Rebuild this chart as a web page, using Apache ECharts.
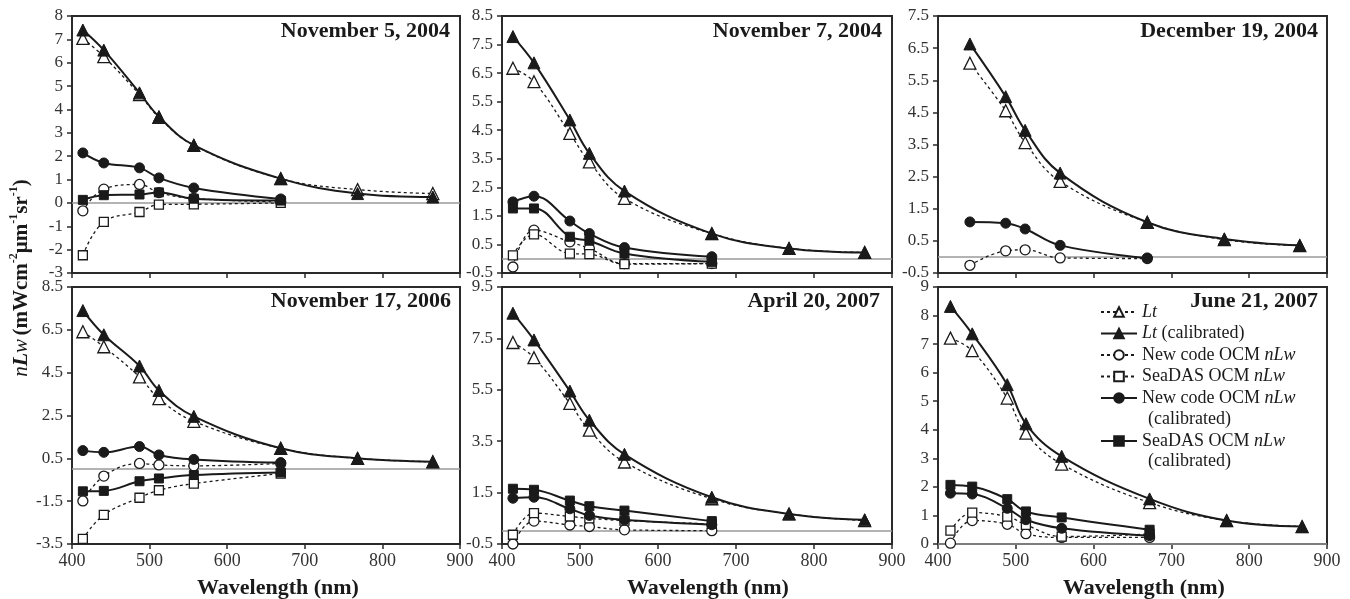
<!DOCTYPE html>
<html><head><meta charset="utf-8">
<script src="https://cdn.jsdelivr.net/npm/echarts@6/dist/echarts.min.js"></script>
<style>html,body{margin:0;padding:0;background:#fff}#c{width:1350px;height:599px}</style>
</head><body><div id="c"></div><script>
// ---- data ----
const wavelengths = [414, 441, 487, 512, 557, 669, 768, 865];
const wavelengthsJun2007 = [416, 444, 489, 513, 559, 672, 771, 868];
const xTicks = [400, 500, 600, 700, 800, 900];

const nov5_2004_Lt         = [7.04, 6.26, 4.64, 3.66, 2.46, 1.04, 0.57, 0.40];
const nov5_2004_LtCal      = [7.40, 6.54, 4.71, 3.69, 2.47, 1.04, 0.40, 0.25];
const nov5_2004_newCode    = [-0.34, 0.59, 0.79, 0.44, 0.19, 0.04];
const nov5_2004_seadas     = [-2.24, -0.81, -0.39, -0.07, -0.06, 0.00];
const nov5_2004_newCodeCal = [2.14, 1.71, 1.50, 1.07, 0.64, 0.17];
const nov5_2004_seadasCal  = [0.13, 0.33, 0.36, 0.45, 0.18, 0.10];

const nov7_2004_Lt         = [6.67, 6.20, 4.39, 3.39, 2.11, 0.88, 0.36, 0.22];
const nov7_2004_LtCal      = [7.78, 6.86, 4.86, 3.69, 2.37, 0.88, 0.36, 0.22];
const nov7_2004_newCode    = [-0.29, 1.00, 0.59, 0.36, -0.17, -0.17];
const nov7_2004_seadas     = [0.12, 0.85, 0.18, 0.16, -0.19, -0.17];
const nov7_2004_newCodeCal = [1.99, 2.19, 1.32, 0.88, 0.39, 0.07];
const nov7_2004_seadasCal  = [1.76, 1.76, 0.77, 0.63, 0.18, -0.11];

const dec19_2004_Lt         = [null, 6.03, 4.55, 3.56, 2.35, 1.08, 0.54, 0.35];
const dec19_2004_LtCal      = [null, 6.63, 4.99, 3.94, 2.61, 1.08, 0.56, 0.36];
const dec19_2004_newCode    = [null, -0.26, 0.19, 0.22, -0.03, -0.05];
const dec19_2004_newCodeCal = [null, 1.09, 1.05, 0.87, 0.36, -0.03];

const nov17_2006_Lt         = [6.41, 5.71, 4.30, 3.29, 2.23, 0.97, 0.50, 0.34];
const nov17_2006_LtCal      = [7.40, 6.27, 4.81, 3.67, 2.46, 0.97, 0.50, 0.34];
const nov17_2006_newCode    = [-1.49, -0.33, 0.26, 0.19, 0.15, 0.26];
const nov17_2006_seadas     = [-3.26, -2.14, -1.34, -0.99, -0.68, -0.21];
const nov17_2006_newCodeCal = [0.86, 0.78, 1.05, 0.66, 0.45, 0.30];
const nov17_2006_seadasCal  = [-1.04, -1.02, -0.57, -0.44, -0.28, -0.16];

const apr20_2007_Lt         = [7.34, 6.75, 4.97, 3.93, 2.69, 1.26, 0.67, 0.41];
const apr20_2007_LtCal      = [8.48, 7.44, 5.45, 4.32, 2.99, 1.32, 0.67, 0.44];
const apr20_2007_newCode    = [-0.50, 0.39, 0.24, 0.18, 0.05, 0.02];
const apr20_2007_seadas     = [-0.14, 0.70, 0.57, 0.50, 0.41, 0.28];
const apr20_2007_newCodeCal = [1.28, 1.32, 0.87, 0.61, 0.44, 0.25];
const apr20_2007_seadasCal  = [1.65, 1.61, 1.19, 0.97, 0.80, 0.39];

const jun21_2007_Lt         = [7.21, 6.77, 5.11, 3.88, 2.80, 1.45, 0.82, 0.61];
const jun21_2007_LtCal      = [8.32, 7.36, 5.58, 4.21, 3.07, 1.58, 0.82, 0.61];
const jun21_2007_newCode    = [0.03, 0.82, 0.69, 0.36, 0.23, 0.23];
const jun21_2007_seadas     = [0.47, 1.10, 0.96, 0.67, 0.26, 0.35];
const jun21_2007_newCodeCal = [1.78, 1.75, 1.25, 0.85, 0.55, 0.29];
const jun21_2007_seadasCal  = [2.07, 2.01, 1.57, 1.14, 0.93, 0.50];

const seriesNames = ['Lt', 'Lt (calibrated)', 'New code OCM nLw', 'SeaDAS OCM nLw',
  'New code OCM nLw (calibrated)', 'SeaDAS OCM nLw (calibrated)'];

// ---- layout ----
const SERIF = '"Liberation Serif", "DejaVu Serif", serif';
const INK = '#1a1a1a';
const panels = [
  {title:'November 5, 2004', wl:wavelengths, ymin:-3, ymax:8, step:1,
   data:[nov5_2004_Lt, nov5_2004_LtCal, nov5_2004_newCode, nov5_2004_seadas, nov5_2004_newCodeCal, nov5_2004_seadasCal],
   grid:{left:72, top:16, width:388, height:257}, tr:900, tt:21, xl:false},
  {title:'November 7, 2004', wl:wavelengths, ymin:-0.5, ymax:8.5, step:1,
   data:[nov7_2004_Lt, nov7_2004_LtCal, nov7_2004_newCode, nov7_2004_seadas, nov7_2004_newCodeCal, nov7_2004_seadasCal],
   grid:{left:502, top:16, width:390, height:257}, tr:468, tt:21, xl:false},
  {title:'December 19, 2004', wl:wavelengths, ymin:-0.5, ymax:7.5, step:1,
   data:[dec19_2004_Lt, dec19_2004_LtCal, dec19_2004_newCode, null, dec19_2004_newCodeCal, null],
   grid:{left:938, top:16, width:389, height:257}, tr:32, tt:21, xl:false},
  {title:'November 17, 2006', wl:wavelengths, ymin:-3.5, ymax:8.5, step:2,
   data:[nov17_2006_Lt, nov17_2006_LtCal, nov17_2006_newCode, nov17_2006_seadas, nov17_2006_newCodeCal, nov17_2006_seadasCal],
   grid:{left:72, top:287, width:388, height:257}, tr:899, tt:291, xl:true},
  {title:'April 20, 2007', wl:wavelengths, ymin:-0.5, ymax:9.5, step:2,
   data:[apr20_2007_Lt, apr20_2007_LtCal, apr20_2007_newCode, apr20_2007_seadas, apr20_2007_newCodeCal, apr20_2007_seadasCal],
   grid:{left:502, top:287, width:390, height:257}, tr:470, tt:291, xl:true},
  {title:'June 21, 2007', wl:wavelengthsJun2007, ymin:0, ymax:9, step:1,
   data:[jun21_2007_Lt, jun21_2007_LtCal, jun21_2007_newCode, jun21_2007_seadas, jun21_2007_newCodeCal, jun21_2007_seadasCal],
   grid:{left:938, top:287, width:389, height:257}, tr:32, tt:291, xl:true}
];

const styleDefs = [
  {symbol:'triangle', size:12, open:true},
  {symbol:'triangle', size:12, open:false},
  {symbol:'circle', size:10, open:true},
  {symbol:'rect', size:9, open:true},
  {symbol:'circle', size:10, open:false},
  {symbol:'rect', size:9, open:false}
];

const grids = [], xAxes = [], yAxes = [], series = [], titles = [];
panels.forEach((p, gi) => {
  grids.push(Object.assign({show:true, borderColor:'#2a2a2a', borderWidth:2, backgroundColor:'#fff'}, p.grid));
  xAxes.push({type:'value', gridIndex:gi, min:xTicks[0], max:xTicks[xTicks.length-1], interval:100,
    axisLine:{show:true, onZero:false, lineStyle:{color:'#2a2a2a', width:2}},
    axisTick:{show:true, length:5, lineStyle:{color:'#2a2a2a', width:1.5}},
    splitLine:{show:false},
    axisLabel:{show:p.xl, color:'#333', fontFamily:SERIF, fontSize:18, margin:8}});
  yAxes.push({type:'value', gridIndex:gi, min:p.ymin, max:p.ymax, interval:p.step,
    axisLine:{show:true, onZero:false, lineStyle:{color:'#2a2a2a', width:2}},
    axisTick:{show:true, length:5, lineStyle:{color:'#2a2a2a', width:1.5}},
    splitLine:{show:false},
    axisLabel:{color:'#333', fontFamily:SERIF, fontSize:17, margin:9,
      formatter: v => (Math.abs(v) < 1e-9 ? '0' : String(v))}});
  titles.push({text:p.title, right:p.tr, top:p.tt - 1, padding:0,
    textStyle:{fontFamily:SERIF, fontWeight:'bold', fontSize:22, color:INK}});
  p.data.forEach((arr, si) => {
    if (!arr) return;
    const d = styleDefs[si];
    const pts = [];
    arr.forEach((v, i) => { if (v !== null && v !== undefined) pts.push([p.wl[i], v]); });
    const s = {
      type:'line', name:seriesNames[si], xAxisIndex:gi, yAxisIndex:gi, data:pts,
      smooth:0.4,
      symbol:d.symbol, symbolSize:d.size, showSymbol:true,
      lineStyle: d.open ? {color:INK, width:1.3, type:[3,3]} : {color:INK, width:2, type:'solid'},
      itemStyle: d.open ? {color:'#fff', borderColor:INK, borderWidth:1.3} : {color:INK, borderColor:INK, borderWidth:1},
      z: 3 + si
    };
    if (si === 0) {
      s.markLine = {silent:true, symbol:'none', animation:false,
        label:{show:false}, lineStyle:{color:'#9a9a9a', width:1.5, type:'solid'},
        data:[{yAxis:0}], z:1};
    }
    series.push(s);
  });
});

const legendRich = {it:{fontStyle:'italic', fontFamily:SERIF, fontSize:18, color:INK}};
const legendFormat = name => ({
  'Lt':'{it|Lt}',
  'Lt (calibrated)':'{it|Lt} (calibrated)',
  'New code OCM nLw':'New code OCM {it|nLw}',
  'SeaDAS OCM nLw':'SeaDAS OCM {it|nLw}',
  'New code OCM nLw (calibrated)':'New code OCM {it|nLw}',
  'SeaDAS OCM nLw (calibrated)':'SeaDAS OCM {it|nLw}'
})[name];
const legendBase = {orient:'vertical', left:1100, itemWidth:36, itemHeight:12, padding:0,
  selectedMode:false, formatter:legendFormat,
  textStyle:{fontFamily:SERIF, fontSize:18, color:INK, rich:legendRich}};

const option = {
  animation:false,
  backgroundColor:'#fff',
  title:titles,
  grid:grids, xAxis:xAxes, yAxis:yAxes, series:series,
  legend:[
    Object.assign({}, legendBase, {top:303, itemGap:3.5, data:seriesNames.slice(0,5)}),
    Object.assign({}, legendBase, {top:432, data:[seriesNames[5]]})
  ],
  graphic:[
    {type:'text', left:1148, top:410, style:{text:'(calibrated)', fill:INK, font:'18px "Liberation Serif"'}},
    {type:'text', left:1148, top:452, style:{text:'(calibrated)', fill:INK, font:'18px "Liberation Serif"'}},
    {type:'text', left:197, top:577, style:{text:'Wavelength (nm)', fill:INK, font:'bold 22px "Liberation Serif"'}},
    {type:'text', left:627, top:577, style:{text:'Wavelength (nm)', fill:INK, font:'bold 22px "Liberation Serif"'}},
    {type:'text', left:1063, top:577, style:{text:'Wavelength (nm)', fill:INK, font:'bold 22px "Liberation Serif"'}},
    {type:'text', x:20, y:278, rotation:Math.PI/2,
     style:{text:'{i|n}{bi|L}{i|w} {b|(mWcm}{s|-2}{b|µm}{s|-1}{b|sr}{s|-1}{b|)}',
       align:'center', verticalAlign:'middle', textAlign:'center', textVerticalAlign:'middle',
       rich:{
         i:{fontFamily:SERIF, fontStyle:'italic', fontSize:21, fill:INK, color:INK, verticalAlign:'bottom', lineHeight:24},
         bi:{fontFamily:SERIF, fontStyle:'italic', fontWeight:'bold', fontSize:22, fill:INK, color:INK, verticalAlign:'bottom', lineHeight:24},
         b:{fontFamily:SERIF, fontWeight:'bold', fontSize:21, fill:INK, color:INK, verticalAlign:'bottom', lineHeight:24},
         s:{fontFamily:SERIF, fontWeight:'bold', fontSize:12, fill:INK, color:INK, verticalAlign:'top', lineHeight:24}
       }}}
  ]
};
const chart = echarts.init(document.getElementById('c'), null, {renderer:'canvas'});
chart.setOption(option);
</script></body></html>
